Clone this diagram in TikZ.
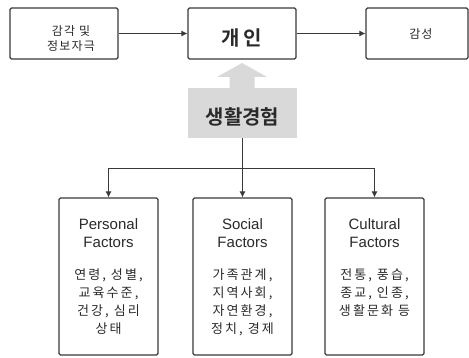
\documentclass[tikz,border=0pt]{standalone}
\usepackage{fontspec}
\setmainfont{Liberation Sans}
\newfontfamily\kr{Noto Sans CJK KR}
\newfontfamily\krb{Noto Sans CJK KR Bold}
\usetikzlibrary{arrows.meta}
\definecolor{lineC}{HTML}{3A3A3A}
\definecolor{grayC}{HTML}{D9D9D9}
\definecolor{txtC}{HTML}{2A2A2A}
\newcommand{\krsmall}{\kr\addfontfeature{LetterSpace=16}\fontsize{13}{17.8}\selectfont}
\begin{document}
\begin{tikzpicture}[x=1pt,y=-1pt,
  box/.style={draw=lineC, line width=1.1pt, rounded corners=1.5pt, text=txtC},
  topbox/.style={box, minimum width=108pt, minimum height=51pt, inner sep=0pt},
  toptext/.style={anchor=base, inner sep=0pt, text=txtC, font=\kr\addfontfeature{LetterSpace=10}\fontsize{12}{15}\selectfont},
  factbox/.style={box, minimum width=99pt, minimum height=157pt, inner sep=0pt},
  facttext/.style={anchor=north, align=center, text=txtC, inner sep=0pt, font=\fontsize{15}{18}\selectfont},
  arr/.style={-{Latex[length=6pt,width=6pt]}, line width=1pt, draw=lineC},
  conn/.style={line width=1pt, draw=lineC}]
\useasboundingbox (0,0) rectangle (469,358);
\fill[white] (0,0) rectangle (469,358);

% top row
\node[topbox] (t1) at (64,33.5) {};
\node[toptext] (t1a) at (71,35.5) {감각 및};
\node[toptext] (t1b) at (71,50.5) {정보자극};
\node[topbox, font=\krb\addfontfeature{LetterSpace=18}\fontsize{20}{22}\selectfont] (t2) at (242,33.5) {\raisebox{-12.5pt}[0pt][0pt]{개인}};
\node[topbox, minimum width=102pt, font=\kr\addfontfeature{LetterSpace=8}\fontsize{12}{16}\selectfont] (t3) at (417,33.5) {\hspace*{8pt}감성};
\draw[arr] (t1) -- (t2);
\draw[arr] (t2) -- (t3);

% life experience
\node[fill=grayC, minimum width=109pt, minimum height=50pt, inner sep=0pt,
      font=\krb\fontsize{20}{22}\selectfont, text=txtC] (lab) at (242.5,113) {\raisebox{-12pt}[0pt][0pt]{생활경험}};
\fill[grayC] (229.5,88.5) -- (229.5,77) -- (217,77) -- (242,63) -- (267,77) -- (254.5,77) -- (254.5,88.5) -- cycle;

% factor boxes
\node[factbox] (p) at (108.5,276.5) {};
\node[factbox] (s) at (242.5,276.5) {};
\node[factbox] (c) at (374.5,276.5) {};

\node[facttext] (pt) at (108.5,218) {Personal\\Factors\\[14pt]\krsmall 연령, 성별,\\\krsmall 교육수준,\\\krsmall 건강, 심리\\\krsmall 상태};
\node[facttext] (st) at (242.5,218) {Social\\Factors\\[14pt]\krsmall 가족관계,\\\krsmall 지역사회,\\\krsmall 자연환경,\\\krsmall 정치, 경제};
\node[facttext] (ct) at (374.5,218) {Cultural\\Factors\\[14pt]\krsmall 전통, 풍습,\\\krsmall 종교, 인종,\\\krsmall 생활문화 등};

% connectors from life experience
\coordinate (j) at (242.5,169);
\draw[conn] (lab.south) -- (j);
\draw[arr] (j) -| (p.north);
\draw[arr] (j) -- (s.north);
\draw[arr] (j) -| (c.north);
\end{tikzpicture}
\end{document}
